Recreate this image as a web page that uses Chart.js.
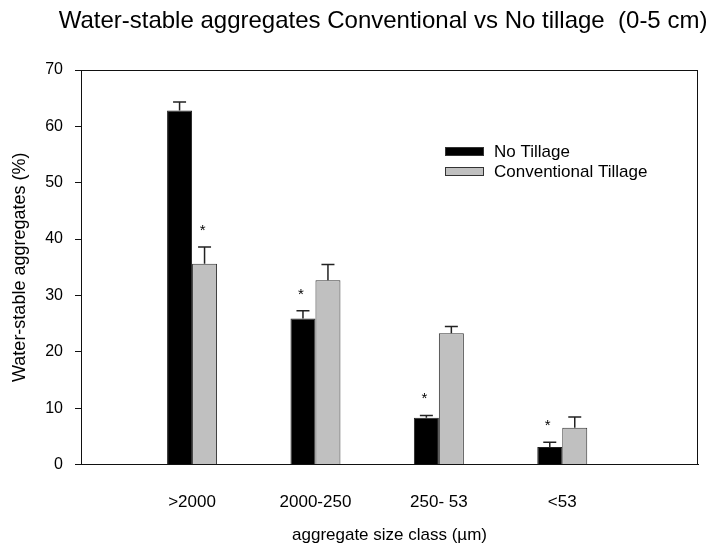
<!DOCTYPE html>
<html>
<head>
<meta charset="utf-8">
<script src="https://cdn.jsdelivr.net/npm/chart.js@4.4.0/dist/chart.umd.min.js"></script>
<style>
  html, body { margin: 0; padding: 0; background: #fff; }
</style>
</head>
<body>
<canvas id="chart" width="709" height="548"></canvas>
<script>
const categories = [">2000", "2000-250", "250- 53", "<53"];
const noTillage = [62.8, 25.9, 8.3, 3.1];
const noTillageErr = [1.5, 1.4, 0.4, 0.85];
const conventional = [35.6, 32.7, 23.3, 6.5];
const conventionalErr = [3.0, 2.8, 1.2, 1.95];
// series that gets the * in each group (0 = No Tillage, 1 = Conventional)
const starOn = [1, 0, 0, 0];
const yTicks = [0, 10, 20, 30, 40, 50, 60, 70];

const FONT = "Arial, 'Liberation Sans', Helvetica, sans-serif";
const values = [noTillage, conventional];
const errors = [noTillageErr, conventionalErr];

// error bars, stars, legend, title and the frame
const extras = {
  id: "extras",
  afterDatasetsDraw(chart) {
    const ctx = chart.ctx;
    const y = chart.scales.y;
    ctx.save();
    ctx.strokeStyle = "#222";
    ctx.lineWidth = 1.5;
    chart.data.datasets.forEach((ds, d) => {
      chart.getDatasetMeta(d).data.forEach((bar, i) => {
        const top = y.getPixelForValue(values[d][i] + errors[d][i]);
        ctx.beginPath();
        ctx.moveTo(bar.x, bar.y);
        ctx.lineTo(bar.x, top);
        ctx.moveTo(bar.x - 6.5, top);
        ctx.lineTo(bar.x + 6.5, top);
        ctx.stroke();
      });
    });

    ctx.fillStyle = "#000";
    ctx.font = "15px " + FONT;
    ctx.textAlign = "center";
    ctx.textBaseline = "alphabetic";
    starOn.forEach((d, i) => {
      const bar = chart.getDatasetMeta(d).data[i];
      const top = y.getPixelForValue(values[d][i] + errors[d][i]);
      ctx.fillText("*", bar.x - 2, top - 12);
    });
    ctx.restore();
  },
  afterDraw(chart) {
    const ctx = chart.ctx;
    const a = chart.chartArea;
    ctx.save();
    ctx.strokeStyle = "#111";
    ctx.lineWidth = 1;
    ctx.strokeRect(Math.round(a.left) + 0.5, Math.round(a.top) + 0.5,
      Math.round(a.right - a.left) - 1, Math.round(a.bottom - a.top) - 1);

    // title
    ctx.fillStyle = "#000";
    ctx.font = "24px " + FONT;
    ctx.textAlign = "center";
    ctx.textBaseline = "middle";
    ctx.fillText("Water-stable aggregates Conventional vs No tillage  (0-5 cm)", 383, 21);

    // legend
    ctx.font = "17px " + FONT;
    ctx.textAlign = "left";
    chart.data.datasets.forEach((ds, d) => {
      const by = 147 + d * 20;
      ctx.fillStyle = ds.backgroundColor;
      ctx.fillRect(445, by, 39, 9);
      ctx.strokeStyle = "#333";
      ctx.strokeRect(445.5, by + 0.5, 38, 8);
      ctx.fillStyle = "#000";
      ctx.fillText(ds.label, 494, by + 5);
    });
    ctx.restore();
  }
};

new Chart(document.getElementById("chart"), {
  type: "bar",
  data: {
    datasets: [
      {
        label: "No Tillage",
        data: noTillage.map((v, i) => ({ x: i, y: v })),
        backgroundColor: "#000000",
        borderColor: "#222",
        borderWidth: 1
      },
      {
        label: "Conventional Tillage",
        data: conventional.map((v, i) => ({ x: i, y: v })),
        backgroundColor: "#c0c0c0",
        borderColor: "#333",
        borderWidth: 1
      }
    ]
  },
  options: {
    responsive: false,
    animation: false,
    devicePixelRatio: 1,
    categoryPercentage: 0.405,
    barPercentage: 1,
    layout: { padding: { top: 70, right: 11, bottom: 0, left: 0 } },
    plugins: {
      legend: { display: false },
      title: { display: false },
      tooltip: { enabled: false }
    },
    scales: {
      x: {
        type: "linear",
        offset: false,
        min: -0.9,
        max: 4.1,
        afterBuildTicks: (axis) => { axis.ticks = categories.map((c, i) => ({ value: i })); },
        afterFit: (axis) => { axis.height = 83.5; },
        grid: { display: false },
        border: { display: true, color: "#111", width: 1 },
        ticks: {
          color: "#000",
          font: { family: FONT, size: 17 },
          padding: 20,
          maxRotation: 0,
          callback: (v) => categories[v]
        },
        title: {
          display: true,
          text: "aggregate size class (µm)",
          color: "#000",
          font: { family: FONT, size: 17 },
          padding: { top: 0, bottom: 2 }
        }
      },
      y: {
        min: 0,
        max: 70,
        afterBuildTicks: (axis) => { axis.ticks = yTicks.map((v) => ({ value: v })); },
        afterFit: (axis) => { axis.width = 81; },
        grid: { display: true, drawOnChartArea: false, drawTicks: true, tickLength: 6, color: "#111" },
        border: { display: true, color: "#111", width: 1 },
        ticks: {
          color: "#000",
          font: { family: FONT, size: 16 },
          padding: 12
        },
        title: {
          display: true,
          text: "Water-stable aggregates (%)",
          color: "#000",
          font: { family: FONT, size: 18 },
          padding: { top: 9, bottom: 0 }
        }
      }
    }
  },
  plugins: [extras]
});
</script>
</body>
</html>
